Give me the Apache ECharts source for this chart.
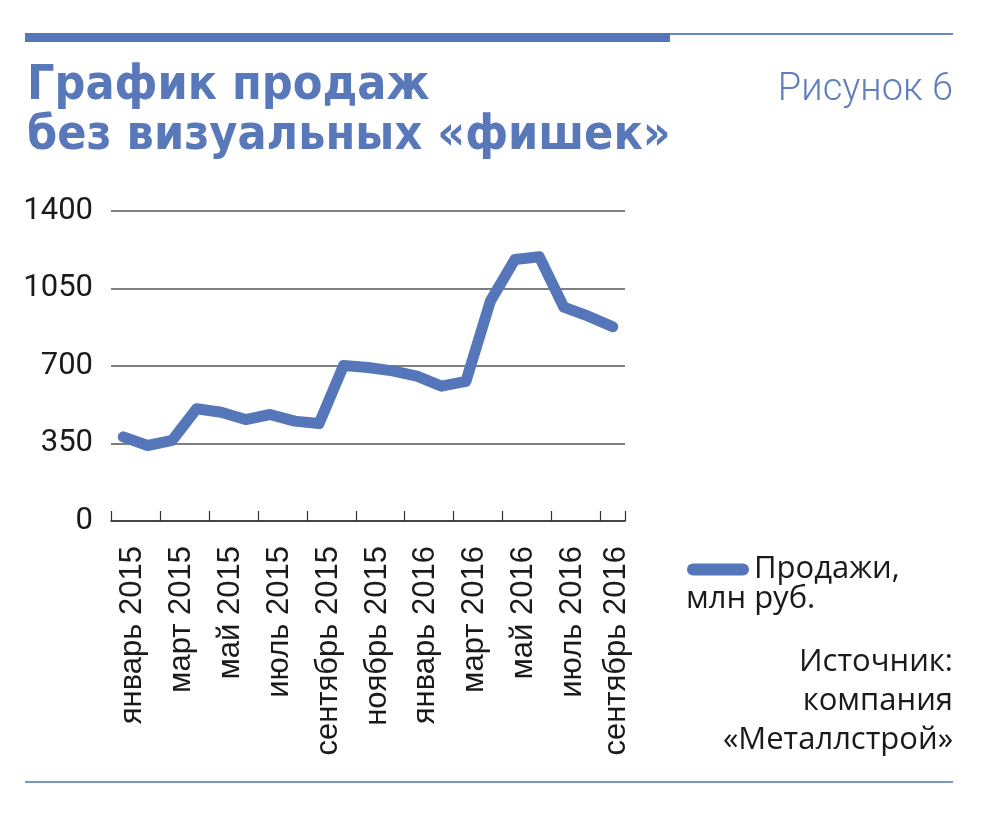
<!DOCTYPE html>
<html>
<head>
<meta charset="utf-8">
<script src="https://cdn.jsdelivr.net/npm/echarts@6/dist/echarts.min.js"></script>
<style>
html,body{margin:0;padding:0;background:#fff;}
#chart{width:988px;height:817px;}
</style>
</head>
<body>
<div id="chart"></div>
<script>
// ---- data ----
var categories = ['январь 2015','февраль 2015','март 2015','апрель 2015','май 2015','июнь 2015','июль 2015','август 2015','сентябрь 2015','октябрь 2015','ноябрь 2015','декабрь 2015','январь 2016','февраль 2016','март 2016','апрель 2016','май 2016','июнь 2016','июль 2016','август 2016','сентябрь 2016'];
var sales = [380,341,364,507,491,458,481,451,440,702,693,678,654,609,631,993,1181,1193,966,925,877];
var yMin = 0, yMax = 1400, yStep = 350;
var seriesName = 'Продажи, млн руб.';
var legendLines = ['Продажи,','млн руб.'];
var titleLines = ['График продаж','без визуальных «фишек»'];
var figureLabel = 'Рисунок 6';
var sourceLines = ['Источник:','компания','«Металлстрой»'];

var BLUE = '#5576b9';
var INK = '#1a1a1a';
var lastIdx = categories.length - 1;

var chart = echarts.init(document.getElementById('chart'), null, {renderer:'canvas'});
var option = {
  backgroundColor: '#ffffff',
  animation: false,
  grid: {left: 111, right: 363, top: 211, bottom: 296, containLabel: false},
  xAxis: {
    type: 'category',
    data: categories,
    boundaryGap: true,
    axisLine: {show: true, lineStyle: {color: '#333', width: 1.5}},
    axisTick: {show: true, inside: true, length: 10, interval: 1, lineStyle: {color: '#333', width: 1.2}},
    axisLabel: {
      interval: 1, rotate: 90, margin: 25,
      verticalAlign: 'top',
      formatter: function(v, i){ return (i === lastIdx ? '{b|' : '{a|') + v + '}'; },
      rich: {
        a: {fontFamily: 'Liberation Sans', fontSize: 31, color: INK, lineHeight: 18},
        b: {fontFamily: 'Liberation Sans', fontSize: 31, color: INK, lineHeight: 8}
      }
    },
    splitLine: {show: false}
  },
  yAxis: {
    type: 'value',
    min: yMin, max: yMax, interval: yStep,
    axisLine: {show: false},
    axisTick: {show: false},
    axisLabel: {margin: 18, fontFamily: 'Roboto', fontSize: 31, color: INK, formatter: function(v){ return String(v); }},
    splitLine: {show: true, lineStyle: {color: '#555', width: 1.5}}
  },
  legend: {
    show: true,
    data: [seriesName],
    left: 682, top: 549,
    icon: 'path://M6,0 H56 A6,6 0 0 1 56,12 H6 A6,6 0 0 1 6,0 Z',
    itemWidth: 62, itemHeight: 12, itemGap: 0,
    formatter: function(){ return legendLines[0]; },
    textStyle: {fontFamily: 'Open Sans', fontSize: 31, color: INK},
    selectedMode: false
  },
  series: [{
    name: seriesName,
    type: 'line',
    data: sales,
    symbol: 'none',
    smooth: false,
    itemStyle: {color: BLUE},
    lineStyle: {color: BLUE, width: 11, cap: 'round', join: 'round'},
    z: 5
  }],
  graphic: [
    {type:'rect', shape:{x:25, y:33, width:645, height:9}, style:{fill: BLUE}},
    {type:'rect', shape:{x:670, y:33, width:283, height:2}, style:{fill: '#6a88c2'}},
    {type:'rect', shape:{x:25, y:781, width:928, height:2}, style:{fill: '#7d96c9'}},
    {type:'text', left: 27, top: 63, style:{text: titleLines[0], font: 'bold 48px "DejaVu Sans Condensed", sans-serif', fill: '#5878b9'}},
    {type:'text', left: 27, top: 113, style:{text: titleLines[1], font: 'bold 48px "DejaVu Sans Condensed", sans-serif', fill: '#5878b9'}},
    {type:'text', right: 35, top: 71, style:{text: figureLabel, font: '300 38px Roboto, sans-serif', fill: '#5f7fbd'}},
    {type:'text', left: 686, top: 584, style:{text: legendLines[1], font: '31px "Open Sans", sans-serif', fill: INK}},
    {type:'text', right: 35, top: 647, style:{text: sourceLines[0], font: '31px "Open Sans", sans-serif', fill: INK}},
    {type:'text', right: 35, top: 686, style:{text: sourceLines[1], font: '31px "Open Sans", sans-serif', fill: INK}},
    {type:'text', right: 35, top: 725, style:{text: sourceLines[2], font: '31px "Open Sans", sans-serif', fill: INK}}
  ]
};
chart.setOption(option);
</script>
</body>
</html>
